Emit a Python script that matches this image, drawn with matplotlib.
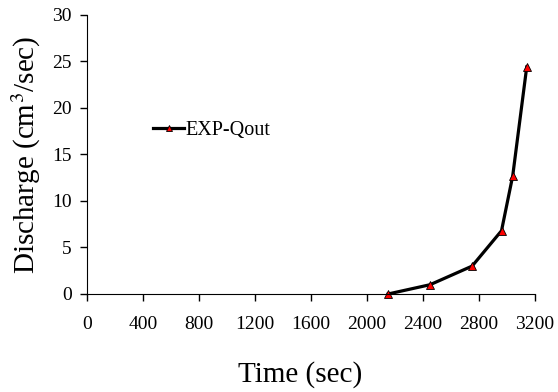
import matplotlib
matplotlib.use("Agg")
import matplotlib.pyplot as plt
from matplotlib.lines import Line2D

plt.rcParams.update({"font.family": "Liberation Serif", "mathtext.fontset": "stix"})

# Experimental outflow discharge
time_sec = [2150, 2450, 2750, 2960, 3040, 3140]
discharge = [0.0, 1.0, 3.0, 6.8, 12.7, 24.4]
x_ticks = [0, 400, 800, 1200, 1600, 2000, 2400, 2800, 3200]
y_ticks = [0, 5, 10, 15, 20, 25, 30]

fig = plt.figure(figsize=(5.58, 3.92), dpi=100)
ax = fig.add_axes([0.156, 0.25, 0.803, 0.712])

ax.plot(time_sec, discharge, color="black", linewidth=2.3,
        marker="^", markersize=6, markerfacecolor="red",
        markeredgecolor="black", markeredgewidth=0.6, clip_on=False)

ax.set_xlim(0, 3200)
ax.set_ylim(0, 30)
ax.set_xticks(x_ticks)
ax.set_yticks(y_ticks)
ax.tick_params(direction="out", length=5, width=1, labelsize=14)
ax.tick_params(axis="x", pad=11)
ax.tick_params(axis="y", pad=6)
for s in ("top", "right"):
    ax.spines[s].set_visible(False)

ax.set_xlabel("Time (sec)", fontsize=21)
ax.xaxis.set_label_coords(0.475, -0.24)
ax.set_ylabel("Discharge (cm$^3$/sec)", fontsize=21)
ax.yaxis.set_label_coords(-0.099, 0.5)

handle = Line2D([], [], color="black", linewidth=2.3, marker="^",
                markersize=5, markerfacecolor="red", markeredgecolor="black",
                markeredgewidth=0.6)
ax.legend([handle], ["EXP-Qout"], loc="center left",
          bbox_to_anchor=(0.147, 0.585), frameon=False, fontsize=14.5,
          borderpad=0, borderaxespad=0,
          handlelength=1.55, handletextpad=0.08)

fig.savefig("out.png", dpi=100)
